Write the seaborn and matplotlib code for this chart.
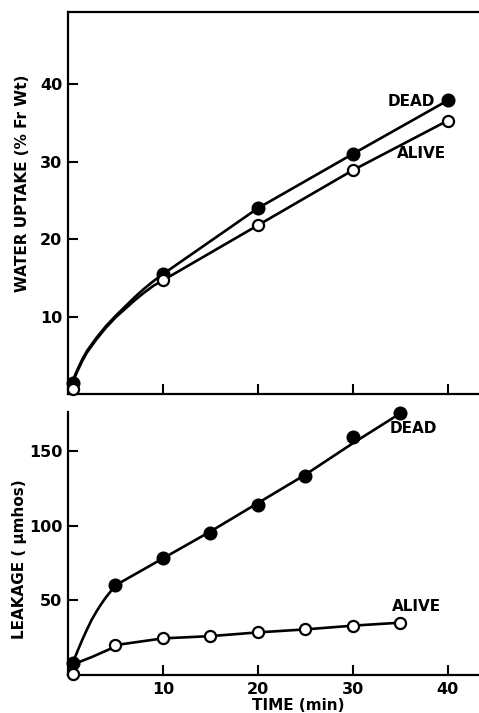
import matplotlib
matplotlib.use('Agg')
import matplotlib.pyplot as plt
import seaborn as sns

sns.set_style('ticks')
plt.rcParams['font.family'] = ['DejaVu Sans']
plt.rcParams.update({'text.color': 'black', 'axes.labelcolor': 'black',
                     'xtick.color': 'black', 'ytick.color': 'black',
                     'axes.edgecolor': 'black'})

# measured points, water uptake (% fresh weight)
time_top = [0.5, 10, 20, 30, 40]
uptake_dead = [1.5, 15.5, 24.0, 31.0, 37.9]
uptake_alive = [0.7, 14.7, 21.8, 28.9, 35.3]

# hand-drawn curves (early part), then through the points
curve_top_t = [0.5, 1, 1.5, 2, 3, 4, 5, 6, 7, 8, 9, 10, 20, 30, 40]
curve_top_dead = [1.8, 3.2, 4.5, 5.6, 7.3, 8.8, 10.1, 11.3, 12.5, 13.6, 14.6, 15.5, 24.0, 31.0, 37.9]
curve_top_alive = [1.6, 3.0, 4.3, 5.4, 7.1, 8.6, 9.9, 11.0, 12.1, 13.1, 14.0, 14.7, 21.8, 28.9, 35.3]

# measured points, leakage (umhos)
time_bot = [0.5, 5, 10, 15, 20, 25, 30, 35]
leak_dead = [8, 60, 78, 95, 114, 133, 159, 175]
leak_alive = [1, 20, 24.5, 26, 28.5, 30.5, 33, 35]

curve_dead_t = [0.5, 1.0, 1.5, 2.0, 2.5, 3.0, 3.5, 4.0, 4.5, 5, 10, 15, 20, 25, 30, 35]
curve_dead_v = [8, 16, 23.5, 30.5, 37, 42.5, 47.5, 52, 56, 60, 78, 96, 115, 134, 155, 175]
curve_alive_t = [0.5, 1.5, 2.5, 3.5, 4.5, 5, 10, 15, 20, 25, 30, 35]
curve_alive_v = [7, 9.5, 12, 14.8, 17.6, 20, 24.5, 26, 28.5, 30.5, 33, 35]

fig = plt.figure(figsize=(4.79, 7.13), dpi=100)
ax1 = fig.add_axes([0.142, 0.447, 0.858, 0.536])
ax2 = fig.add_axes([0.142, 0.0533, 0.858, 0.369])

lw = 1.9
font = dict(fontweight='bold', fontsize=11)


def draw(ax, ct, cv, t, v, filled):
    sns.lineplot(x=ct, y=cv, ax=ax, color='black', lw=lw, sort=False,
                 estimator=None, clip_on=False)
    ax.plot(t, v, 'o', ms=8.5 if filled else 8,
            mfc='black' if filled else 'white', mec='black', mew=1.6,
            clip_on=False, zorder=5)


draw(ax1, curve_top_t, curve_top_dead, time_top, uptake_dead, True)
draw(ax1, curve_top_t, curve_top_alive, time_top, uptake_alive, False)
draw(ax2, curve_dead_t, curve_dead_v, time_bot, leak_dead, True)
draw(ax2, curve_alive_t, curve_alive_v, time_bot, leak_alive, False)

ax1.set_xlim(0, 43.3)
ax1.set_ylim(0, 49.3)
ax2.set_xlim(0, 43.3)
ax2.set_ylim(0, 176)

ax1.set_xticks([10, 20, 30, 40])
ax1.set_xticklabels([])
ax1.set_yticks([10, 20, 30, 40])
ax2.set_xticks([10, 20, 30, 40])
ax2.set_yticks([50, 100, 150])

for ax in (ax1, ax2):
    ax.tick_params(direction='in', length=7, width=1.5, pad=4, labelsize=11.5)
    for lab in ax.get_xticklabels() + ax.get_yticklabels():
        lab.set_fontweight('bold')
    for s in ax.spines.values():
        s.set_linewidth(1.6)
    ax.spines['right'].set_visible(False)
ax2.spines['top'].set_visible(False)
ax2.tick_params(axis='x', pad=5)

ax1.set_ylabel('WATER UPTAKE (% Fr Wt)', **font)
ax2.set_ylabel('LEAKAGE ( \u03bcmhos)', **font)
ax2.set_xlabel('TIME (min)', **font)
ax1.yaxis.set_label_coords(-0.092, 0.552)
ax2.yaxis.set_label_coords(-0.1, 0.44)
ax2.xaxis.set_label_coords(0.56, -0.086)

ax1.text(38.7, 37.8, 'DEAD', ha='right', va='center', **font)
ax1.text(39.8, 31.0, 'ALIVE', ha='right', va='center', **font)
ax2.text(38.9, 165, 'DEAD', ha='right', va='center', **font)
ax2.text(39.3, 46, 'ALIVE', ha='right', va='center', **font)

fig.savefig('out.png', dpi=100, facecolor='white')
